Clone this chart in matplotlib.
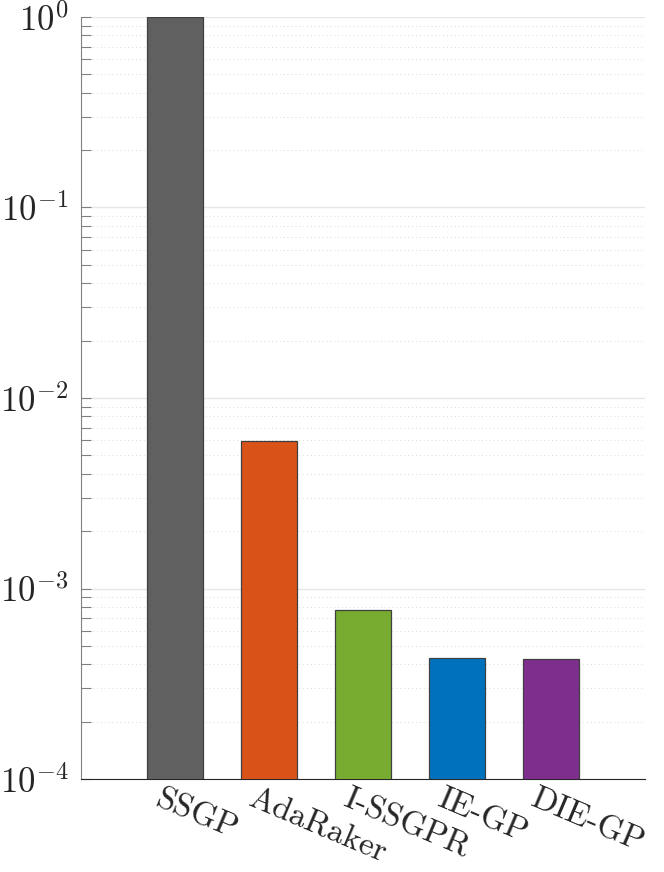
import matplotlib
matplotlib.use("Agg")
import matplotlib.pyplot as plt
import matplotlib.transforms as mtransforms
import numpy as np
from matplotlib.ticker import LogLocator, FixedLocator, NullFormatter

methods = ["SSGP", "AdaRaker", "I-SSGPR", "IE-GP", "DIE-GP"]
values = [1.0, 5.95e-3, 7.7e-4, 4.31e-4, 4.25e-4]
colors = ["#606060", "#D95319", "#77AC30", "#0072BD", "#7E2F8E"]

plt.rcParams["mathtext.fontset"] = "cm"
plt.rcParams["axes.unicode_minus"] = False

fig = plt.figure(figsize=(6.64, 8.72), dpi=100)
ax = fig.add_axes([81 / 664, 1 - 779 / 872, (645 - 81) / 664, (779 - 17) / 872])

x = np.arange(1, len(methods) + 1)
ax.bar(x, values, width=0.6, color=colors, edgecolor="#404040", linewidth=0.9, zorder=3)

ax.set_yscale("log")
ax.set_ylim(1e-4, 1e0)
ax.set_xlim(0, 6)

ax.yaxis.set_major_locator(FixedLocator([1e-4, 1e-3, 1e-2, 1e-1, 1e0]))
ax.yaxis.set_minor_locator(LogLocator(base=10, subs=np.arange(2, 10)))
ax.yaxis.set_minor_formatter(NullFormatter())
ax.set_yticklabels([r"$10^{-4}$", r"$10^{-3}$", r"$10^{-2}$", r"$10^{-1}$", r"$10^{0}$"],
                   fontsize=25, color="#262626")

ax.grid(True, which="major", axis="y", color="#e6e6e6", linewidth=1.0, linestyle="-", zorder=0)
ax.grid(True, which="minor", axis="y", color="#dadada", linewidth=0.7, linestyle=(0, (1, 3)), zorder=0)

ax.tick_params(axis="y", which="both", direction="in", length=7, width=0.8, color="#808080", pad=9)
ax.tick_params(axis="x", length=0, pad=4)

ax.set_xticks(x)
ax.set_xticklabels(methods, fontfamily="cmr10", fontsize=24, rotation=-23,
                   ha="left", va="top", rotation_mode="anchor", color="#262626")
offset = mtransforms.ScaledTranslation(-13 / 100, 0, fig.dpi_scale_trans)
for lab in ax.get_xticklabels():
    lab.set_transform(lab.get_transform() + offset)

for s in ["top", "right"]:
    ax.spines[s].set_visible(False)
ax.spines["left"].set_color("#808080")
ax.spines["bottom"].set_color("#262626")
ax.spines["left"].set_linewidth(0.8)
ax.spines["bottom"].set_linewidth(0.8)

fig.savefig("out.png", dpi=100)
